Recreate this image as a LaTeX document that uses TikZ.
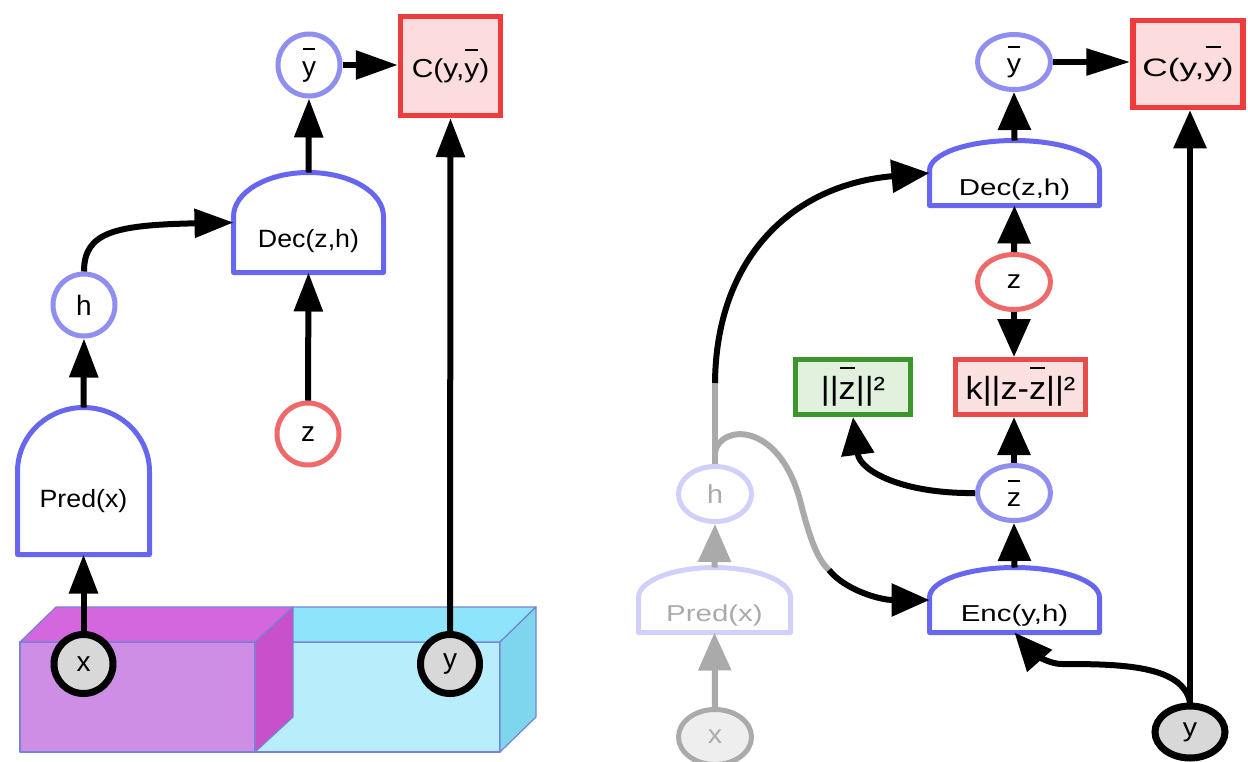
\documentclass[tikz,border=0pt]{standalone}
\usepackage{fontspec}
\setmainfont{Liberation Sans}
\newfontfamily\lfa[FakeStretch=1.07]{Liberation Sans}
\newfontfamily\lfb[FakeStretch=1.15]{Liberation Sans}
\newfontfamily\lfc{Liberation Sans}
\newfontfamily\rfa[FakeStretch=1.28]{Liberation Sans}
\newfontfamily\rfb[FakeStretch=1.4]{Liberation Sans}
\newfontfamily\rfc[FakeStretch=1.1]{Liberation Sans}
\newfontfamily\rfd[FakeStretch=1.07]{Liberation Sans}
\usetikzlibrary{arrows.meta,shapes.geometric}
\newcommand\tb[2][0.95em]{\begingroup\setbox0\hbox{#2}\rlap{\hbox to \wd0{\hss\rule[#1]{0.85\wd0}{0.065em}\hss}}\box0\endgroup}
\definecolor{domeblue}{RGB}{102,102,238}
\definecolor{circblue}{RGB}{143,143,240}
\definecolor{zred}{RGB}{238,106,106}
\definecolor{cred}{RGB}{238,60,60}
\definecolor{cfill}{RGB}{252,220,220}
\definecolor{kred}{RGB}{230,76,76}
\definecolor{kfill}{RGB}{250,224,222}
\definecolor{ggreen}{RGB}{60,150,45}
\definecolor{gfill}{RGB}{226,240,222}
\definecolor{xyfill}{RGB}{216,216,216}
\definecolor{fadeblue}{RGB}{208,208,250}
\definecolor{fadetext}{RGB}{170,170,170}
\definecolor{fadegray}{RGB}{170,170,170}
\definecolor{fadefill}{RGB}{238,238,238}
\definecolor{magfront}{RGB}{206,142,230}
\definecolor{magtop}{RGB}{212,102,222}
\definecolor{magside}{RGB}{200,80,200}
\definecolor{cyfront}{RGB}{184,238,252}
\definecolor{cytop}{RGB}{142,228,250}
\definecolor{cyside}{RGB}{125,214,238}
\definecolor{boxedge}{RGB}{120,130,215}
\tikzset{
  lft/.style={font=\lfa\fontsize{12.5}{15}\selectfont},
  lcirc/.style={font=\lfc\fontsize{14}{16}\selectfont},
  rgt/.style={font=\rfa\fontsize{11.5}{14}\selectfont},
  rcirc/.style={font=\rfc\fontsize{13}{15}\selectfont},
  circL/.style={lcirc, circle, draw=circblue, line width=2.5pt, fill=white, minimum size=31pt, inner sep=0pt},
  zcircL/.style={circL, draw=zred},
  xyL/.style={lcirc, circle, draw=black, line width=3.5pt, fill=xyfill, minimum size=29.5pt, inner sep=0pt},
  circR/.style={rcirc, ellipse, draw=circblue, line width=2.5pt, fill=white, minimum width=36.5pt, minimum height=27.5pt, inner sep=0pt},
  zcircR/.style={circR, draw=zred},
  fadecirc/.style={circR, draw=fadeblue, text=fadetext},
  fadex/.style={circR, draw=fadegray, fill=fadefill, text=fadetext},
  xyR/.style={rcirc, ellipse, draw=black, line width=3.5pt, fill=xyfill, minimum width=35pt, minimum height=26pt, inner sep=0pt},
  domebox/.style={rectangle, draw=none, inner sep=0pt, outer sep=0pt, text depth=0pt},
  domeline/.style={draw=domeblue, line width=2.5pt, line join=round},
  fadedome/.style={domeline, draw=fadeblue},
  costL/.style={rectangle, draw=cred, fill=cfill, line width=2.75pt, inner sep=0pt, font=\lfb\fontsize{13}{15}\selectfont},
  costR/.style={rectangle, draw=cred, fill=cfill, line width=2.75pt, inner sep=0pt, font=\rfb\fontsize{12.6}{15}\selectfont},
  kbox/.style={rectangle, draw=kred, fill=kfill, line width=2.5pt, inner sep=0pt, font=\rfd\fontsize{16}{18}\selectfont},
  gbox/.style={kbox, draw=ggreen, fill=gfill},
  arrL/.style={line width=3pt, -{Triangle[length=19.5pt,width=14pt]}},
  arrLh/.style={line width=3pt, -{Triangle[length=21pt,width=14pt]}},
  arrR/.style={line width=3pt, -{Triangle[length=19pt,width=16pt]}},
  arrRh/.style={line width=3pt, -{Triangle[length=22pt,width=13pt]}},
  arrG/.style={arrR, draw=fadegray},
  grayline/.style={line width=3pt, draw=fadegray},
  boxline/.style={draw=boxedge, line width=0.6pt, line join=round},
}
\begin{document}
\begin{tikzpicture}[x=0.5pt,y=-0.5pt]
\useasboundingbox (0,0) rectangle (1248,761);
% ---------- 3D data boxes ----------
\filldraw[boxline, fill=cyfront] (255,642) -- (500,642) -- (500,752) -- (255,752) -- cycle;
\filldraw[boxline, fill=cytop] (255,642) -- (293,607) -- (536,607) -- (500,642) -- cycle;
\filldraw[boxline, fill=cyside] (500,642) -- (536,607) -- (536,717) -- (500,752) -- cycle;
\filldraw[boxline, fill=magfront] (20,642) -- (255,642) -- (255,752) -- (20,752) -- cycle;
\filldraw[boxline, fill=magtop] (20,642) -- (56,607) -- (293,607) -- (255,642) -- cycle;
\filldraw[boxline, fill=magside] (255,642) -- (293,607) -- (293,717) -- (255,752) -- cycle;

% ---------- left panel ----------
\node[domebox, lft, minimum width=75pt, minimum height=50pt, text height=24.5pt] (decL) at (308.5,222.5) {Dec(z,h)};
\draw[domeline] (decL.south west) -- ++(0,-56) arc[start angle=180, end angle=0, x radius=37.5pt, y radius=22pt] -- (decL.south east) -- cycle;
\node[domebox, lft, minimum width=66pt, minimum height=73.5pt, text height=26pt] (predL) at (83.5,481) {Pred(x)};
\draw[domeline] (predL.south west) -- ++(0,-83) arc[start angle=180, end angle=0, x radius=33pt, y radius=32pt] -- (predL.south east) -- cycle;
\node[circL] (ybL) at (309,65) {\tb{y}};
\node[costL, minimum width=50pt, minimum height=49.5pt] (CL) at (450.5,66) {C(y,\tb[1.05em]{y})};
\node[circL] (hL) at (84,305) {h};
\node[zcircL] (zL) at (308,434) {z};
\node[xyL] (xL) at (83.5,664) {x};
\node[xyL] (yL) at (450,664) {y};

\draw[arrL] (xL.north) -- (predL.south);
\draw[arrL] (predL.north) -- (hL.south);
\draw[arrL] (hL.north) .. controls (84,232) and (115,225) .. (decL.west);
\draw[arrL] (zL.north) -- (decL.south);
\draw[arrL] (decL.north) -- (ybL.south);
\draw[arrLh] (ybL.east) -- (ybL.east -| CL.west);
\draw[arrL] (yL.north) -- (CL.south);

% ---------- right panel ----------
\node[domebox, rgt, minimum width=85pt, minimum height=32.5pt, text height=22pt] (decR) at (1014.5,173) {Dec(z,h)};
\draw[domeline] (decR.south west) -- ++(0,-35) arc[start angle=180, end angle=0, x radius=42.5pt, y radius=15pt] -- (decR.south east) -- cycle;
\node[domebox, rgt, minimum width=85pt, minimum height=32.5pt, text height=21pt] (encR) at (1014.5,600) {Enc(y,h)};
\draw[domeline] (encR.south west) -- ++(0,-35) arc[start angle=180, end angle=0, x radius=42.5pt, y radius=15pt] -- (encR.south east) -- cycle;
\node[domebox, rgt, text=fadetext, minimum width=76pt, minimum height=32.5pt, text height=21pt] (predR) at (714.5,600) {Pred(x)};
\draw[fadedome] (predR.south west) -- ++(0,-35) arc[start angle=180, end angle=0, x radius=38pt, y radius=15pt] -- (predR.south east) -- cycle;

\node[circR] (ybR) at (1014,62) {\tb{y}};
\node[costR, minimum width=55pt, minimum height=43.5pt] (CR) at (1188,64) {C(y,\tb[1.15em]{y})};
\node[zcircR] (zR) at (1014,282) {z};
\node[gbox, minimum width=57.5pt, minimum height=27.5pt] (gb) at (853,387) {||\tb{z}||²};
\node[kbox, minimum width=65pt, minimum height=27.5pt] (kb) at (1020.5,387) {k||z-\tb{z}||²};
\node[circR] (zbR) at (1014,493) {\tb{z}};
\node[fadecirc] (hR) at (715,494) {h};
\node[fadex] (xR) at (715,737) {x};
\node[xyR] (yR) at (1190,732) {y};

\coordinate (hsplit) at (715,383);
\coordinate (hbranch) at (715,452);
\coordinate (esplit) at (829,570);

\draw[arrG] (xR.north) -- (predR.south);
\draw[arrG] (predR.north) -- (hR.south);
\draw[grayline] (hR.north) -- (hsplit);
\draw[grayline] (hbranch) .. controls (720,425) and (778,420) .. (800,500) .. controls (810,540) and (818,560) .. (esplit);
\draw[arrR] (hsplit) .. controls (716,260) and (790,185) .. (decR.west);
\draw[arrR] (esplit) .. controls (845,590) and (880,600) .. (encR.west);
\draw[arrR] (decR.north) -- (ybR.south);
\draw[arrRh] (ybR.east) -- (ybR.east -| CR.west);
\draw[arrR] (zR.north) -- (decR.south);
\draw[arrR] (zR.south) -- (zR.south |- kb.north);
\draw[arrR] (zbR.north) -- (zbR.north |- kb.south);
\draw[arrR] (zbR.west) .. controls (905,494) and (860,472) .. (gb.south);
\draw[arrR] (encR.north) -- (zbR.south);
\draw[arrR] (yR.north) -- (yR.north |- CR.south);
\draw[arrR] (yR.north) .. controls (1183,665) and (1120,664) .. (1062,664) .. controls (1046,664) and (1030,650) .. (encR.south);
\end{tikzpicture}
\end{document}
